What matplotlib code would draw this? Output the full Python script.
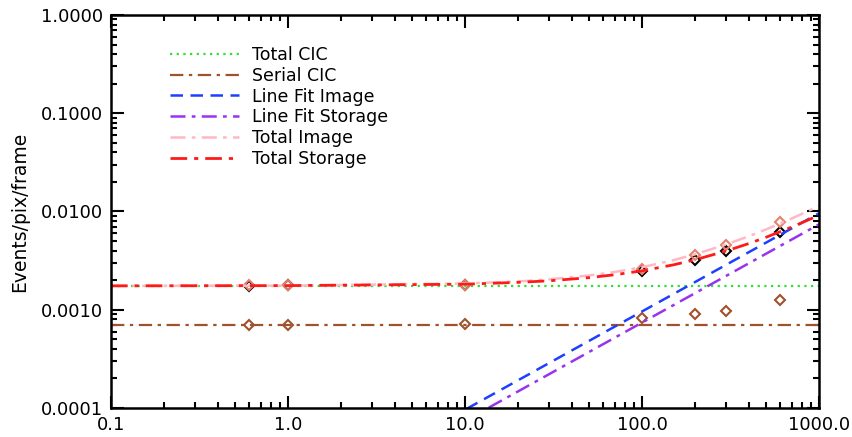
import numpy as np
import matplotlib
matplotlib.use("Agg")
import matplotlib.pyplot as plt
from matplotlib.ticker import FixedLocator, FixedFormatter, LogLocator, NullFormatter

plt.rcParams['font.family'] = ['DejaVu Sans']

# data
data_x = [0.6, 1.0, 10.0, 100.0, 200.0, 300.0, 600.0]
image_pts = [0.00178, 0.00180, 0.00180, 0.0026, 0.0036, 0.0046, 0.0079]
storage_pts = [0.00176, 0.00177, 0.00178, 0.0025, 0.0032, 0.0040, 0.0062]
serial_pts = [0.00070, 0.00070, 0.00071, 0.00083, 0.00091, 0.00098, 0.00126]

cic_x = [0.1, 1000.0]
total_cic = [0.00175, 0.00175]
serial_cic = [0.00070, 0.00070]

fit_x = [5.0, 1000.0]
fit_image = [4.8e-5, 0.0096]
fit_storage = [3.7e-5, 0.0074]

curve_x = [0.1, 1, 10, 20, 30, 50, 70, 100, 150, 200, 300, 400, 500, 700, 1000]
total_image = [0.00175, 0.00176, 0.00185, 0.00194, 0.00204, 0.00223, 0.00242,
               0.00271, 0.00319, 0.00367, 0.00463, 0.00559, 0.00655, 0.00847, 0.01135]
total_storage = [0.00175, 0.00176, 0.00182, 0.00190, 0.00197, 0.00212, 0.00227,
                 0.00249, 0.00286, 0.00323, 0.00397, 0.00471, 0.00545, 0.00693, 0.00915]

x_ticks = [0.1, 1.0, 10.0, 100.0, 1000.0]
x_labels = ['0.1', '1.0', '10.0', '100.0', '1000.0']
y_ticks = [0.0001, 0.001, 0.01, 0.1, 1.0]
y_labels = ['0.0001', '0.0010', '0.0100', '0.1000', '1.0000']

fig = plt.figure(figsize=(8.52, 4.37), dpi=100)
ax = fig.add_axes([0.1303, 0.0664, 0.9613 - 0.1303, 0.9657 - 0.0664])

mk = dict(marker='D', linestyle='none', markersize=5.5, markerfacecolor='none', markeredgewidth=1.5)
ax.plot(data_x, storage_pts, color='black', **mk)
ax.plot(data_x, image_pts, color='#e8806c', **mk)
ax.plot(data_x, serial_pts, color='#a0522d', **mk)

dashdot = (0, (6, 2.5, 1.5, 2.5))
ax.plot(cic_x, total_cic, color='#33dd33', linestyle=(0, (1, 2)), lw=1.6, label='Total CIC')
ax.plot(cic_x, serial_cic, color='#a0522d', linestyle=dashdot, lw=1.6, label='Serial CIC')
ax.plot(fit_x, fit_image, color='#1f3fff', linestyle=(0, (5, 3)), lw=1.8, label='Line Fit Image')
ax.plot(fit_x, fit_storage, color='#9933ee', linestyle=dashdot, lw=1.8, label='Line Fit Storage')
ax.plot(curve_x, total_image, color='#ffb8c4', linestyle=dashdot, lw=1.8, label='Total Image')
ax.plot(curve_x, total_storage, color='#ff1a1a', linestyle=dashdot, lw=2.0, label='Total Storage')

ax.set_xscale('log')
ax.set_yscale('log')
ax.set_xlim(0.1, 1000)
ax.set_ylim(0.0001, 1.0)

ax.xaxis.set_major_locator(FixedLocator(x_ticks))
ax.xaxis.set_major_formatter(FixedFormatter(x_labels))
ax.yaxis.set_major_locator(FixedLocator(y_ticks))
ax.yaxis.set_major_formatter(FixedFormatter(y_labels))
ax.xaxis.set_minor_locator(LogLocator(base=10, subs=np.arange(2, 10)))
ax.yaxis.set_minor_locator(LogLocator(base=10, subs=np.arange(2, 10)))
ax.xaxis.set_minor_formatter(NullFormatter())
ax.yaxis.set_minor_formatter(NullFormatter())

ax.tick_params(which='both', direction='in', top=True, right=True, width=1.5, labelsize=13)
ax.tick_params(which='major', length=9, pad=6)
ax.tick_params(which='minor', length=4.5)
for s in ax.spines.values():
    s.set_linewidth(1.8)

ax.set_ylabel('Events/pix/frame', fontsize=13.5, labelpad=8)

leg = ax.legend(loc='upper left', bbox_to_anchor=(0.083, 0.922), frameon=False, fontsize=12.5,
                handlelength=4.0, handletextpad=0.75, labelspacing=0.17, borderaxespad=0, borderpad=0)

fig.savefig('out.png', dpi=100)
